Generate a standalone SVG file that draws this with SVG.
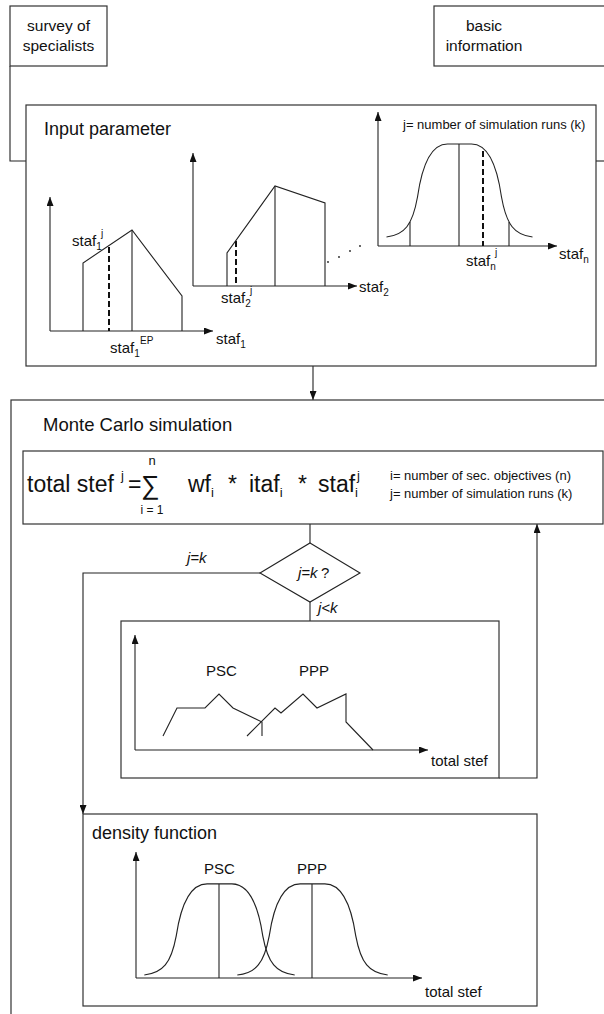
<svg xmlns="http://www.w3.org/2000/svg" width="604" height="1014" viewBox="0 0 604 1014">
<style>
text{font-family:"Liberation Sans",Arial,sans-serif;fill:#111}
.box{fill:none;stroke:#333;stroke-width:1.2}
.ln{fill:none;stroke:#222;stroke-width:1.1}
.ax{fill:none;stroke:#222;stroke-width:1.1;marker-end:url(#ah)}
.dash{fill:none;stroke:#111;stroke-width:2;stroke-dasharray:6 3}
.t15{font-size:15px}
.s10{font-size:10px}
.it{font-style:italic;font-size:15px}
</style>
<defs>
<marker id="ah" markerUnits="userSpaceOnUse" markerWidth="9" markerHeight="7" refX="9" refY="3.5" orient="auto"><path d="M0,0 L9,3.5 L0,7 z" fill="#111"/></marker>
<path id="bell" d="M -73 0 C -55 -2, -47 -12, -42 -40 C -37 -75, -27 -93, -12 -93 L 12 -93 C 27 -93, 37 -75, 42 -40 C 47 -12, 55 -2, 73 0"/>
</defs>
<rect width="604" height="1014" fill="#fff"/>

<g id="connectors">
<polyline class="ln" points="10,66 10,161 26,161"/>
<line class="ln" x1="596" y1="161" x2="604" y2="161"/>
<line class="ax" x1="313" y1="366" x2="313" y2="400"/>
<line class="ln" x1="310" y1="524" x2="310" y2="543"/>
<line class="ln" x1="310" y1="602" x2="310" y2="621"/>
<polyline class="ax" points="260,573 83,573 83,814"/>
<polyline class="ax" points="499,778 537,778 537,524"/>
<text class="it" x="187" y="563">j=k</text>
<text class="it" x="318" y="613">j&lt;k</text>
</g>

<g id="survey">
<rect class="box" x="10" y="6" width="97" height="60"/>
<text x="58.5" y="31" font-size="15.5" text-anchor="middle">survey of</text>
<text x="58.5" y="51" font-size="15.5" text-anchor="middle">specialists</text>
</g>

<g id="basic">
<rect class="box" x="434" y="6" width="180" height="60"/>
<text x="484" y="31" font-size="15.5" text-anchor="middle">basic</text>
<text x="484" y="51" font-size="15.5" text-anchor="middle">information</text>
</g>

<g id="input">
<rect class="box" x="26" y="105" width="570" height="261"/>
<text x="44" y="135" font-size="18">Input parameter</text>
<text x="403" y="129" font-size="13">j= number of simulation runs (k)</text>
<line class="ax" x1="50" y1="331" x2="50" y2="197"/>
<line class="ax" x1="50" y1="331" x2="213" y2="331"/>
<polyline class="ln" points="83,331 83,263 132,230 182,296 182,331"/>
<line class="ln" x1="132" y1="230" x2="132" y2="331"/>
<line class="dash" x1="109" y1="247" x2="109" y2="331"/>
<text class="t15" x="72" y="246">staf<tspan class="s10" y="250">1</tspan><tspan class="s10" x="101" y="237">j</tspan></text>
<text class="t15" x="110" y="353">staf<tspan class="s10" y="357">1</tspan><tspan class="s10" x="140" y="344">EP</tspan></text>
<text class="t15" x="216" y="344">staf<tspan class="s10" y="348">1</tspan></text>
<line class="ax" x1="193" y1="286" x2="193" y2="153"/>
<line class="ax" x1="193" y1="286" x2="357" y2="286"/>
<polyline class="ln" points="227,286 227,253 275,186 325,203 325,286"/>
<line class="ln" x1="275" y1="186" x2="275" y2="286"/>
<line class="dash" x1="236" y1="241" x2="236" y2="286"/>
<text class="t15" x="221" y="303">staf<tspan class="s10" y="307">2</tspan><tspan class="s10" x="250" y="294">j</tspan></text>
<text class="t15" x="359" y="292">staf<tspan class="s10" y="296">2</tspan></text>
<g fill="#222"><circle cx="328" cy="262" r="0.9"/><circle cx="339" cy="257" r="0.9"/><circle cx="350" cy="251" r="0.9"/><circle cx="360" cy="246" r="0.9"/></g>
<line class="ax" x1="378" y1="246" x2="378" y2="112"/>
<line class="ax" x1="378" y1="246" x2="557" y2="246"/>
<use href="#bell" class="ln" transform="translate(459.5,237)"/>
<line class="ln" x1="459" y1="144" x2="459" y2="246"/>
<line class="ln" x1="410" y1="222" x2="410" y2="246"/>
<line class="ln" x1="509" y1="222" x2="509" y2="246"/>
<line class="dash" x1="483" y1="151" x2="483" y2="246"/>
<text class="t15" x="466" y="266">staf<tspan class="s10" y="270">n</tspan><tspan class="s10" x="495" y="256">j</tspan></text>
<text class="t15" x="559" y="259">staf<tspan class="s10" y="263">n</tspan></text>
</g>

<g id="montecarlo">
<rect class="box" x="11" y="400" width="600" height="620"/>
<text x="43" y="431" font-size="18.5">Monte Carlo simulation</text>
</g>

<g id="formula">
<rect class="box" x="23" y="451" width="580" height="73"/>
<text x="27" y="492" font-size="23">total stef</text>
<text x="121" y="480" font-size="13">j</text>
<text x="128" y="492" font-size="23">=</text>
<text x="141" y="494" font-size="26">∑</text>
<text x="152" y="465" font-size="13" text-anchor="middle">n</text>
<text x="152" y="514" font-size="12" text-anchor="middle">i = 1</text>
<text x="188" y="492" font-size="23">wf<tspan font-size="13" y="497">i</tspan></text>
<text x="228" y="492" font-size="23">*</text>
<text x="249" y="492" font-size="23">itaf<tspan font-size="13" y="497">i</tspan></text>
<text x="298" y="492" font-size="23">*</text>
<text x="318" y="492" font-size="23">staf<tspan font-size="13" y="497">i</tspan><tspan font-size="13" x="357" y="480">j</tspan></text>
<text x="390" y="480" font-size="13">i= number of sec. objectives (n)</text>
<text x="390" y="498" font-size="13">j= number of simulation runs (k)</text>
</g>

<g id="decision">
<polygon class="ln" points="310,543 360,573 310,602 260,573"/>
<text x="298" y="578" class="it">j=k</text>
<text x="321" y="578" font-size="15">?</text>
</g>

<g id="runs">
<rect class="box" x="121" y="621" width="378" height="157"/>
<line class="ax" x1="135" y1="750" x2="135" y2="635"/>
<line class="ax" x1="135" y1="750" x2="428" y2="750"/>
<text class="t15" x="431" y="766">total stef</text>
<text class="t15" x="206" y="676">PSC</text>
<text class="t15" x="299" y="676">PPP</text>
<polyline class="ln" points="163,736 177,708 205,708 219,694 233,708 262,722 262,736"/>
<polyline class="ln" points="247,736 275,708 281,713 303,694 317,708 346,694 346,722 373,750"/>
</g>

<g id="density">
<rect class="box" x="83" y="814" width="454" height="192"/>
<text x="92" y="839" font-size="18">density function</text>
<line class="ax" x1="136" y1="978" x2="136" y2="852"/>
<line class="ax" x1="136" y1="978" x2="422" y2="978"/>
<use href="#bell" class="ln" transform="translate(219.5,975) scale(1.03,0.98)" vector-effect="non-scaling-stroke"/>
<use href="#bell" class="ln" transform="translate(312.5,975) scale(1.03,0.98)" vector-effect="non-scaling-stroke"/>
<line class="ln" x1="219" y1="884" x2="219" y2="978"/>
<line class="ln" x1="312" y1="884" x2="312" y2="978"/>
<text class="t15" x="204" y="874">PSC</text>
<text class="t15" x="297" y="874">PPP</text>
<text class="t15" x="425" y="997">total stef</text>
</g>
</svg>
